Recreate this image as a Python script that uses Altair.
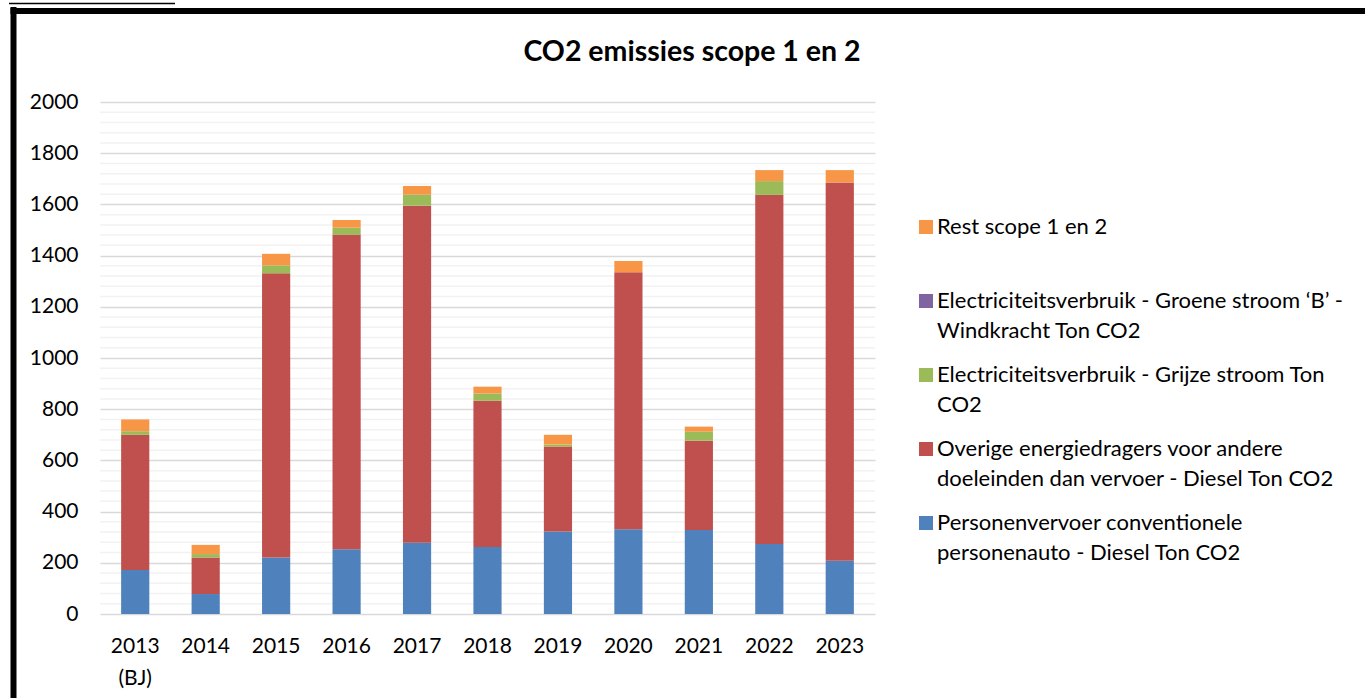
import altair as alt
import pandas as pd

# ---- data ----
years = ["2013 (BJ)", "2014", "2015", "2016", "2017", "2018",
         "2019", "2020", "2021", "2022", "2023"]

personenvervoer = [172, 78, 221, 253, 278, 262, 322, 331, 328, 273, 208]
overige_diesel = [528, 143, 1110, 1229, 1317, 571, 332, 1004, 349, 1364, 1478]
grijze_stroom = [14, 13, 31, 27, 43, 28, 8, 0, 35, 54, 0]
groene_stroom = [0, 0, 0, 0, 0, 0, 0, 0, 0, 0, 0]
rest_scope = [46, 36, 45, 30, 34, 27, 38, 44, 20, 43, 48]

# series names ('|' marks a legend line break)
name_personen = "Personenvervoer conventionele|personenauto - Diesel Ton CO2"
name_overige = "Overige energiedragers voor andere|doeleinden dan vervoer - Diesel Ton CO2"
name_grijs = "Electriciteitsverbruik - Grijze stroom Ton|CO2"
name_groen = "Electriciteitsverbruik - Groene stroom \u2018B\u2019 -|Windkracht Ton CO2"
name_rest = "Rest scope 1 en 2"

chart_title = ["CO2 emissies scope 1 en 2"]

# stacking order, bottom to top
stack_series = [
    (name_personen, personenvervoer),
    (name_overige, overige_diesel),
    (name_grijs, grijze_stroom),
    (name_groen, groene_stroom),
    (name_rest, rest_scope),
]
legend_order = [name_rest, name_groen, name_grijs, name_overige, name_personen]
legend_colors = ["#f79646", "#8064a2", "#9bbb59", "#c0504d", "#4f81bd"]

y_ticks = [0, 200, 400, 600, 800, 1000, 1200, 1400, 1600, 1800, 2000]
minor_grid = [40, 80, 120, 160, 240, 280, 320, 360, 440, 480, 520, 560,
              640, 680, 720, 760, 840, 880, 920, 960, 1040, 1080, 1120, 1160,
              1240, 1280, 1320, 1360, 1440, 1480, 1520, 1560, 1640, 1680, 1720,
              1760, 1840, 1880, 1920, 1960]

rows = []
for i, yr in enumerate(years):
    for k, (name, vals) in enumerate(stack_series):
        rows.append({"jaar": yr, "serie": name, "waarde": vals[i], "volgorde": k})
df = pd.DataFrame(rows)

FONT = "Lato"

y_scale = alt.Scale(domain=[0, 2000], nice=False)

minor = alt.Chart(pd.DataFrame({"v": minor_grid})).mark_rule(
    color="#f2f2f2", strokeWidth=1.5
).encode(y=alt.Y("v:Q", scale=y_scale, title=None))

bars = alt.Chart(df).mark_bar().encode(
    x=alt.X("jaar:N", sort=years, title=None,
            scale=alt.Scale(paddingInner=0.6, paddingOuter=0.3),
            axis=alt.Axis(labelAngle=0, domain=False, ticks=False,
                          labelPadding=21, labelFontSize=21,
                          labelLineHeight=32, labelColor="#000000",
                          labelFont=FONT, labelBaseline="top",
                          labelExpr="split(datum.label, ' ')")),
    y=alt.Y("waarde:Q", stack="zero", scale=y_scale, title=None,
            axis=alt.Axis(values=y_ticks, grid=True, gridColor="#d9d9d9",
                          gridWidth=1.5, domain=False, ticks=False,
                          format="d",
                          labelPadding=22, labelFontSize=21,
                          labelColor="#000000", labelFont=FONT)),
    color=alt.Color("serie:N",
                    scale=alt.Scale(domain=legend_order, range=legend_colors),
                    legend=alt.Legend(title=None, orient="none",
                                      legendX=815, legendY=114,
                                      symbolType="square", symbolSize=196,
                                      symbolStrokeWidth=0,
                                      labelFontSize=22, labelFont=FONT,
                                      labelColor="#000000", labelLimit=520,
                                      labelOffset=0, rowPadding=22,
                                      gridAlign="all",
                                      labelExpr="split(datum.label, '|')")),
    order=alt.Order("volgorde:Q", sort="ascending"),
)

title_text = alt.Chart(pd.DataFrame({"t": chart_title})).mark_text(
    font=FONT, fontSize=28.5, fontWeight="bold", color="#000000",
    align="center", baseline="alphabetic"
).encode(text="t:N", x=alt.value(592), y=alt.value(-41))

frame_df = pd.DataFrame({"a": [0]})
left_border = alt.Chart(frame_df).mark_rule(color="black", strokeWidth=6).encode(
    x=alt.value(-86.5), y=alt.value(-95), y2=alt.value(700))
top_border = alt.Chart(frame_df).mark_rule(color="black", strokeWidth=6).encode(
    x=alt.value(-89.5), x2=alt.value(1300), y=alt.value(-91))
underline = alt.Chart(frame_df).mark_rule(color="black", strokeWidth=1.5).encode(
    x=alt.value(-91), x2=alt.value(75), y=alt.value(-98.5))

chart = alt.layer(minor, bars, title_text, left_border, top_border, underline).properties(
    width=775, height=512,
    autosize=alt.AutoSizeParams(type="none"),
    padding={"left": 100, "top": 102, "right": 490, "bottom": 84},
).configure(
    background="white",
    style={"guide-label": {"lineHeight": 30}},
).configure_view(stroke=None)

chart.save("out.html", embed_options={"renderer": "svg", "actions": False})
